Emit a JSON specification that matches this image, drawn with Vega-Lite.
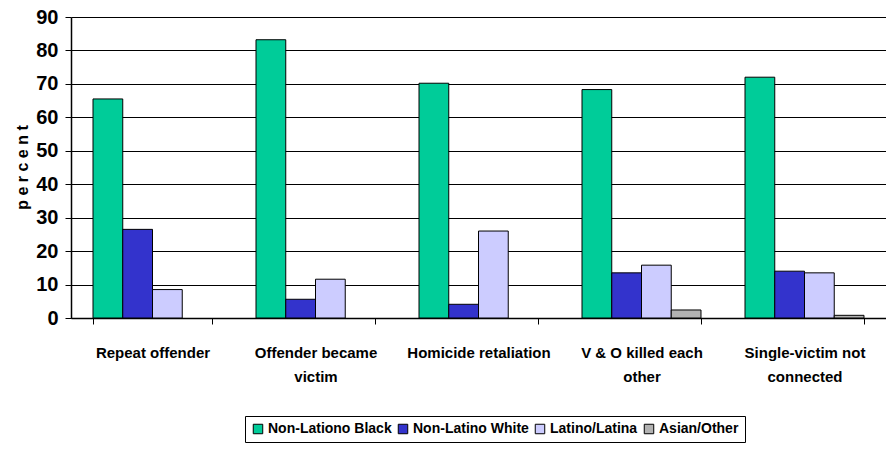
{
  "$schema": "https://vega.github.io/schema/vega-lite/v6.json",
  "width": 815,
  "height": 301,
  "autosize": "none",
  "padding": {"left": 71, "top": 17, "right": 0, "bottom": 145},
  "background": "white",
  "config": {
    "font": "Liberation Sans",
    "view": {"stroke": null}
  },
  "data": {
    "values": [
      {"cat": "Repeat offender", "group": "Non-Lationo Black", "v": 65.5},
      {"cat": "Repeat offender", "group": "Non-Latino White", "v": 26.5},
      {"cat": "Repeat offender", "group": "Latino/Latina", "v": 8.5},
      {"cat": "Repeat offender", "group": "Asian/Other", "v": 0},
      {"cat": "Offender became victim", "group": "Non-Lationo Black", "v": 83.2},
      {"cat": "Offender became victim", "group": "Non-Latino White", "v": 5.6},
      {"cat": "Offender became victim", "group": "Latino/Latina", "v": 11.6},
      {"cat": "Offender became victim", "group": "Asian/Other", "v": 0},
      {"cat": "Homicide retaliation", "group": "Non-Lationo Black", "v": 70.2},
      {"cat": "Homicide retaliation", "group": "Non-Latino White", "v": 4.1},
      {"cat": "Homicide retaliation", "group": "Latino/Latina", "v": 26.0},
      {"cat": "Homicide retaliation", "group": "Asian/Other", "v": 0},
      {"cat": "V & O killed each other", "group": "Non-Lationo Black", "v": 68.3},
      {"cat": "V & O killed each other", "group": "Non-Latino White", "v": 13.5},
      {"cat": "V & O killed each other", "group": "Latino/Latina", "v": 15.8},
      {"cat": "V & O killed each other", "group": "Asian/Other", "v": 2.4},
      {"cat": "Single-victim not connected", "group": "Non-Lationo Black", "v": 72.0},
      {"cat": "Single-victim not connected", "group": "Non-Latino White", "v": 14.0},
      {"cat": "Single-victim not connected", "group": "Latino/Latina", "v": 13.5},
      {"cat": "Single-victim not connected", "group": "Asian/Other", "v": 0.8}
    ]
  },
  "transform": [{"filter": "datum.v > 0"}],
  "mark": {"type": "bar", "stroke": "black", "strokeWidth": 1},
  "encoding": {
    "x": {
      "field": "cat",
      "type": "nominal",
      "sort": ["Repeat offender", "Offender became victim", "Homicide retaliation", "V & O killed each other", "Single-victim not connected"],
      "scale": {"paddingInner": 0.27, "paddingOuter": 0.135},
      "axis": {
        "title": null,
        "labelAngle": 0,
        "labelExpr": "datum.value == 'Repeat offender' ? 'Repeat offender' : datum.value == 'Offender became victim' ? ['Offender became', 'victim'] : datum.value == 'Homicide retaliation' ? 'Homicide retaliation' : datum.value == 'V & O killed each other' ? ['V & O killed each', 'other'] : datum.value == 'Single-victim not connected' ? ['Single-victim not', 'connected'] : ''",
        "labelFont": "Liberation Sans",
        "labelFontWeight": "bold",
        "labelFontSize": 15,
        "labelColor": "black",
        "labelLineHeight": 24,
        "labelPadding": 21,
        "labelBaseline": "top",
        "tickBand": "extent",
        "tickColor": "black",
        "tickSize": 6,
        "domainColor": "black",
        "domainWidth": 1.5,
        "grid": false
      }
    },
    "xOffset": {
      "field": "group",
      "type": "nominal",
      "sort": ["Non-Lationo Black", "Non-Latino White", "Latino/Latina", "Asian/Other"],
      "scale": {"domain": ["Non-Lationo Black", "Non-Latino White", "Latino/Latina", "Asian/Other"], "paddingInner": 0, "paddingOuter": 0}
    },
    "y": {
      "field": "v",
      "type": "quantitative",
      "scale": {"domain": [0, 90], "nice": false},
      "axis": {
        "title": "p e r c e n t",
        "titleFont": "Liberation Sans",
        "titleFontWeight": "bold",
        "titleFontSize": 16,
        "titleColor": "black",
        "titleAngle": -90,
        "titleX": -49,
        "titleY": 150,
        "titleAlign": "center",
        "titleBaseline": "middle",
        "values": [0, 10, 20, 30, 40, 50, 60, 70, 80, 90],
        "labelFont": "Liberation Sans",
        "labelFontWeight": "bold",
        "labelFontSize": 20,
        "labelColor": "black",
        "labelPadding": 7,
        "tickColor": "black",
        "tickSize": 6,
        "domainColor": "black",
        "domainWidth": 1.5,
        "grid": true,
        "gridColor": "black",
        "gridWidth": 1.2
      }
    },
    "color": {
      "field": "group",
      "type": "nominal",
      "sort": ["Non-Lationo Black", "Non-Latino White", "Latino/Latina", "Asian/Other"],
      "scale": {
        "domain": ["Non-Lationo Black", "Non-Latino White", "Latino/Latina", "Asian/Other"],
        "range": ["#00CC99", "#3333CC", "#CCCCFF", "#B2B2B2"]
      },
      "legend": {
        "title": null,
        "orient": "none",
        "legendX": 174,
        "legendY": 399,
        "direction": "horizontal",
        "symbolType": "square",
        "symbolSize": 90,
        "symbolStrokeColor": "black",
        "symbolStrokeWidth": 1,
        "symbolOpacity": 1,
        "labelFont": "Liberation Sans",
        "labelFontWeight": "bold",
        "labelFontSize": 14,
        "labelColor": "black",
        "labelOffset": 3,
        "columnPadding": 4,
        "padding": 6,
        "strokeColor": "black",
        "fillColor": "white"
      }
    }
  }
}
